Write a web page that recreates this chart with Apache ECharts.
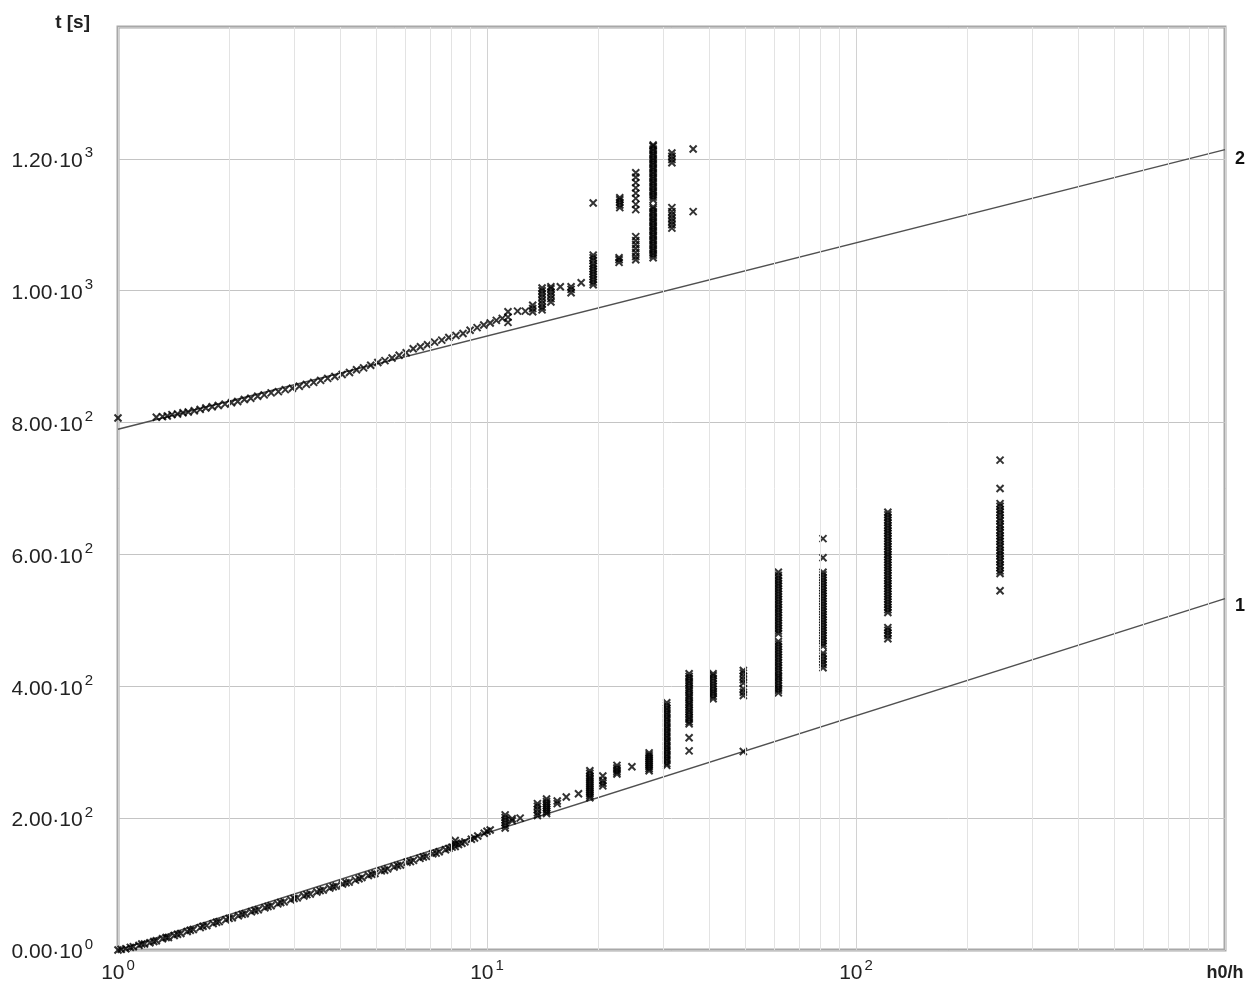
<!DOCTYPE html>
<html>
<head>
<meta charset="utf-8">
<title>t vs h0/h</title>
<script src="https://cdn.jsdelivr.net/npm/echarts@6/dist/echarts.min.js"></script>
<style>
  html, body { margin: 0; padding: 0; background: #fff; }
  #chart { width: 1259px; height: 989px; }
</style>
</head>
<body>
<div id="chart"></div>
<script>
// Measured points of curve 1 (lower set): [h0/h, t]
const lowerTrend = [
  [1.00,0],[1.02,1],[1.05,2],[1.08,4],[1.10,5],[1.14,7],[1.16,9],[1.18,9],[1.22,11],[1.25,13],
  [1.27,14],[1.32,17],[1.35,19],[1.37,19],[1.42,22],[1.45,24],[1.48,25],[1.54,28],[1.57,30],[1.60,31],
  [1.67,34],[1.70,36],[1.74,37],[1.81,40],[1.85,42],[1.88,43],[1.96,46],[2.00,48],[2.04,49],[2.12,52],
  [2.17,54],[2.21,55],[2.30,58],[2.35,60],[2.40,61],[2.50,64],[2.55,66],[2.60,67],[2.71,70],[2.76,72],
  [2.82,73],[2.94,76],[3.00,78],[3.06,79],[3.19,82],[3.25,84],[3.32,85],[3.46,88],[3.53,90],[3.60,91],
  [3.75,94],[3.83,96],[3.90,97],[4.06,100],[4.15,102],[4.23,103],[4.40,106],[4.50,108],[4.58,110],[4.77,113],
  [4.87,115],[4.97,116],[5.17,120],[5.28,121],[5.38,123],[5.60,126],[5.72,128],[5.83,129],[6.07,133],[6.20,134],
  [6.32,136],[6.58,139],[6.72,141],[6.85,142],[7.13,146],[7.28,147],[7.42,149],[7.72,152],[7.88,154],[8.04,156],
  [8.20,157],[8.20,161],[8.20,166],[8.37,160],[8.55,162],[8.71,164],[9.07,168],[9.25,170],[9.44,173],[9.83,177],
  [10.0,180],[10.2,182]
];
const lowerGroups = [
  [11.2,185],[11.2,189],[11.2,193],[11.2,197],[11.2,201],[11.2,205],[11.7,196],[11.7,199],[12.3,200],
  [13.7,204],[13.7,208],[13.7,213],[13.7,218],[13.7,222],
  [14.5,207],[14.5,210],[14.5,213],[14.5,216],[14.5,219],[14.5,222],[14.5,225],[14.5,229],
  [15.5,222],[15.5,226],[16.4,232],[17.7,237],
  [19.0,231],[19.0,234],[19.0,237],[19.0,240],[19.0,243],[19.0,246],[19.0,249],[19.0,252],[19.0,255],
  [19.0,258],[19.0,261],[19.0,264],[19.0,268],[19.0,272],
  [20.6,249],[20.6,253],[20.6,257],[20.6,264],
  [22.5,267],[22.5,270],[22.5,273],[22.5,276],[22.5,280],[24.7,278],
  [27.5,272],[27.5,275],[27.5,278],[27.5,281],[27.5,284],[27.5,287],[27.5,290],[27.5,293],[27.5,296],[27.5,299],
  [30.7,280],[30.7,283],[30.7,287],[30.7,290],[30.7,294],[30.7,297],[30.7,301],[30.7,304],[30.7,308],[30.7,311],
  [30.7,315],[30.7,318],[30.7,322],[30.7,325],[30.7,329],[30.7,332],[30.7,336],[30.7,339],[30.7,343],[30.7,346],
  [30.7,350],[30.7,353],[30.7,357],[30.7,360],[30.7,364],[30.7,367],[30.7,371],[30.7,375],
  [35.3,302],[35.3,322],[35.3,343],[35.3,346],[35.3,350],[35.3,353],[35.3,357],[35.3,361],[35.3,364],[35.3,368],
  [35.3,372],[35.3,375],[35.3,379],[35.3,383],[35.3,386],[35.3,390],[35.3,394],[35.3,397],[35.3,401],[35.3,405],
  [35.3,408],[35.3,412],[35.3,415],[35.3,419],
  [41.0,381],[41.0,385],[41.0,389],[41.0,392],[41.0,396],[41.0,400],[41.0,404],[41.0,408],[41.0,412],[41.0,416],[41.0,419],
  [49.5,301],[49.5,386],[49.5,391],[49.5,396],[49.5,405],[49.5,410],[49.5,415],[49.5,420],[49.5,424],
  [61.6,390],[61.6,394],[61.6,397],[61.6,401],[61.6,405],[61.6,409],[61.6,413],[61.6,416],[61.6,420],[61.6,424],
  [61.6,428],[61.6,432],[61.6,436],[61.6,440],[61.6,444],[61.6,448],[61.6,452],[61.6,456],[61.6,460],[61.6,464],
  [61.6,468],[61.6,480],[61.6,484],[61.6,488],[61.6,492],[61.6,496],[61.6,500],[61.6,504],[61.6,508],[61.6,512],
  [61.6,516],[61.6,520],[61.6,524],[61.6,528],[61.6,532],[61.6,536],[61.6,540],[61.6,544],[61.6,548],[61.6,552],
  [61.6,556],[61.6,560],[61.6,564],[61.6,568],[61.6,573],
  [81.4,428],[81.4,433],[81.4,437],[81.4,441],[81.4,446],[81.4,450],[81.4,461],[81.4,465],[81.4,469],[81.4,473],
  [81.4,477],[81.4,481],[81.4,485],[81.4,489],[81.4,493],[81.4,497],[81.4,501],[81.4,505],[81.4,509],[81.4,513],
  [81.4,517],[81.4,521],[81.4,525],[81.4,529],[81.4,533],[81.4,537],[81.4,541],[81.4,545],[81.4,549],[81.4,553],
  [81.4,557],[81.4,561],[81.4,565],[81.4,569],[81.4,573],[81.4,595],[81.4,624],
  [122,472],[122,477],[122,481],[122,485],[122,489],[122,512],[122,516],[122,520],[122,524],[122,528],
  [122,532],[122,536],[122,540],[122,544],[122,548],[122,552],[122,556],[122,560],[122,564],[122,568],
  [122,572],[122,576],[122,580],[122,584],[122,588],[122,592],[122,596],[122,600],[122,604],[122,608],
  [122,612],[122,616],[122,620],[122,624],[122,628],[122,632],[122,636],[122,640],[122,644],[122,648],
  [122,652],[122,656],[122,660],[122,664],
  [245.7,545],[245.7,571],[245.7,575],[245.7,580],[245.7,584],[245.7,589],[245.7,593],[245.7,598],[245.7,602],
  [245.7,606],[245.7,611],[245.7,615],[245.7,620],[245.7,624],[245.7,628],[245.7,633],[245.7,637],[245.7,642],
  [245.7,646],[245.7,651],[245.7,655],[245.7,660],[245.7,664],[245.7,668],[245.7,673],[245.7,677],[245.7,700],[245.7,743]
];

// Measured points of curve 2 (upper set): [h0/h, t]
const upperTrend = [
  [1.00,807],[1.27,808],[1.32,809],[1.36,810],[1.40,812],[1.45,813],[1.50,815],[1.55,816],[1.61,818],[1.67,820],
  [1.73,822],[1.80,824],[1.87,826],[1.95,828],[2.03,830],[2.11,832],[2.20,835],[2.29,837],[2.39,840],[2.49,842],
  [2.60,845],[2.72,847],[2.84,850],[2.97,852],[3.10,855],[3.24,858],[3.39,861],[3.54,864],[3.70,867],[3.87,870],
  [4.05,873],[4.24,876],[4.43,880],[4.63,883],[4.84,887],[5.06,891],[5.29,894],[5.53,898],[5.78,902],[6.04,906],
  [6.31,912],[6.60,915],[6.90,918],[7.21,922],[7.54,925],[7.88,929],[8.24,932],[8.61,935],[9.00,940],[9.40,944],
  [9.80,948],[10.2,951],[10.6,955],[11.0,958],[11.4,952],[11.4,960],[11.4,968],[12.1,969],[12.7,969]
];
const upperGroups = [
  [13.3,968],[13.3,973],[13.3,978],
  [14.1,971],[14.1,975],[14.1,980],[14.1,985],[14.1,990],[14.1,995],[14.1,1000],[14.1,1004],
  [14.9,983],[14.9,988],[14.9,993],[14.9,998],[14.9,1003],[14.9,1006],
  [15.8,1006],[16.9,997],[16.9,1002],[16.9,1006],[18.0,1012],
  [19.4,1009],[19.4,1013],[19.4,1017],[19.4,1021],[19.4,1025],[19.4,1029],[19.4,1033],[19.4,1037],[19.4,1041],
  [19.4,1046],[19.4,1050],[19.4,1054],[19.4,1133],
  [22.8,1043],[22.8,1047],[22.8,1050],[22.9,1126],[22.9,1130],[22.9,1134],[22.9,1138],[22.9,1141],
  [25.3,1047],[25.3,1052],[25.3,1058],[25.3,1064],[25.3,1070],[25.3,1076],[25.3,1082],
  [25.3,1123],[25.3,1131],[25.3,1140],[25.3,1148],[25.3,1156],[25.3,1164],[25.3,1172],[25.3,1179],
  [28.2,1050],[28.2,1054],[28.2,1057],[28.2,1061],[28.2,1064],[28.2,1068],[28.2,1071],[28.2,1075],[28.2,1078],
  [28.2,1082],[28.2,1085],[28.2,1089],[28.2,1092],[28.2,1096],[28.2,1099],[28.2,1103],[28.2,1106],[28.2,1110],
  [28.2,1113],[28.2,1117],[28.2,1120],[28.2,1124],[28.2,1127],
  [28.2,1138],[28.2,1142],[28.2,1145],[28.2,1149],[28.2,1152],[28.2,1156],[28.2,1159],[28.2,1163],[28.2,1166],
  [28.2,1170],[28.2,1173],[28.2,1177],[28.2,1180],[28.2,1184],[28.2,1187],[28.2,1191],[28.2,1194],[28.2,1198],
  [28.2,1201],[28.2,1205],[28.2,1208],[28.2,1212],[28.2,1215],[28.2,1219],[28.2,1221],
  [31.7,1095],[31.7,1100],[31.7,1105],[31.7,1110],[31.7,1115],[31.7,1120],[31.7,1126],
  [31.7,1194],[31.7,1199],[31.7,1204],[31.7,1209],
  [36.2,1120],[36.2,1215]
];

// Reference lines 1 and 2 (straight in log h0/h): end points
const line1 = [[1, 0], [1000, 533]];
const line2 = [[1, 790], [1000, 1214]];

// Axis settings
const xMin = 1, xMax = 1000;
const yMin = 0, yMax = 1400, yStep = 200;
// Intermediate vertical grid positions inside each decade
const minorGridX = [2,3,4,5,6,7,8,9,20,30,40,50,60,70,80,90,200,300,400,500,600,700,800,900];

const FONT = '"Liberation Sans", Arial, sans-serif';
const TEXT = '#222';

function sciLabel(v) {
  let e = 0, m = 0;
  if (v !== 0) {
    e = Math.floor(Math.log10(v) + 1e-9);
    m = v / Math.pow(10, e);
  }
  return '{b|' + m.toFixed(2) + '\u00B710}{s|' + e + '}';
}
function powLabel(v) {
  return '{b|10}{s|' + Math.round(Math.log10(v)) + '}';
}
const richTicks = {
  b: { fontFamily: FONT, fontSize: 21, color: TEXT, lineHeight: 26, verticalAlign: 'bottom' },
  s: { fontFamily: FONT, fontSize: 15, color: TEXT, lineHeight: 16, verticalAlign: 'top', padding: [0, 0, 0, 2] }
};

const crossSymbol = 'path://M0,0L8,8M8,0L0,8';
const markStyle = { color: 'rgba(0,0,0,0)', borderColor: '#000', borderWidth: 2 };

const chart = echarts.init(document.getElementById('chart'), null, { renderer: 'canvas' });
chart.setOption({
  animation: false,
  backgroundColor: '#ffffff',
  grid: {
    left: 118, right: 34, top: 27, bottom: 39,
    show: true, borderColor: '#a8a8a8', borderWidth: 3, backgroundColor: 'transparent'
  },
  xAxis: {
    type: 'log', logBase: 10, min: xMin, max: xMax,
    name: 'h0/h', nameLocation: 'end', nameGap: 0,
    nameTextStyle: {
      fontFamily: FONT, fontSize: 18, fontWeight: 'bold', color: TEXT,
      align: 'center', verticalAlign: 'top', padding: [14, 0, 0, 0]
    },
    axisLine: { show: false }, axisTick: { show: false },
    splitLine: { show: true, lineStyle: { color: '#d2d2d2', width: 1 } },
    axisLabel: { margin: 8, showMaxLabel: false, formatter: powLabel, rich: richTicks }
  },
  yAxis: {
    type: 'value', min: yMin, max: yMax, interval: yStep,
    name: 't [s]', nameLocation: 'end', nameGap: 4,
    nameTextStyle: {
      fontFamily: FONT, fontSize: 19, fontWeight: 'bold', color: TEXT,
      align: 'right', verticalAlign: 'middle', padding: [0, 28, 0, 0]
    },
    axisLine: { show: false }, axisTick: { show: false },
    splitLine: { show: true, lineStyle: { color: '#c4c4c4', width: 1 } },
    axisLabel: { margin: 25, showMaxLabel: false, formatter: sciLabel, rich: richTicks }
  },
  series: [
    {
      name: 'grid',
      type: 'line', data: [], z: 1, silent: true,
      markLine: {
        silent: true, symbol: ['none', 'none'], animation: false,
        label: { show: false },
        lineStyle: { color: '#e3e3e3', width: 1, type: 'solid' },
        emphasis: { disabled: true },
        data: minorGridX.map(v => ({ xAxis: v }))
      }
    },
    {
      name: '1', type: 'line', data: line1, z: 2, silent: true,
      symbol: 'none', lineStyle: { color: '#505050', width: 1.5 },
      endLabel: { show: true, formatter: '1', fontFamily: FONT, fontSize: 18, fontWeight: 'bold', color: '#111', distance: 10, offset: [0, 7] }
    },
    {
      name: '2', type: 'line', data: line2, z: 2, silent: true,
      symbol: 'none', lineStyle: { color: '#505050', width: 1.5 },
      endLabel: { show: true, formatter: '2', fontFamily: FONT, fontSize: 18, fontWeight: 'bold', color: '#111', distance: 10, offset: [0, 9] }
    },
    { name: 'lower', type: 'scatter', z: 3, symbol: crossSymbol, symbolSize: 7, itemStyle: markStyle, data: lowerTrend.concat(lowerGroups) },
    { name: 'upper', type: 'scatter', z: 3, symbol: crossSymbol, symbolSize: 7, itemStyle: markStyle, data: upperTrend.concat(upperGroups) }
  ]
});
</script>
</body>
</html>
